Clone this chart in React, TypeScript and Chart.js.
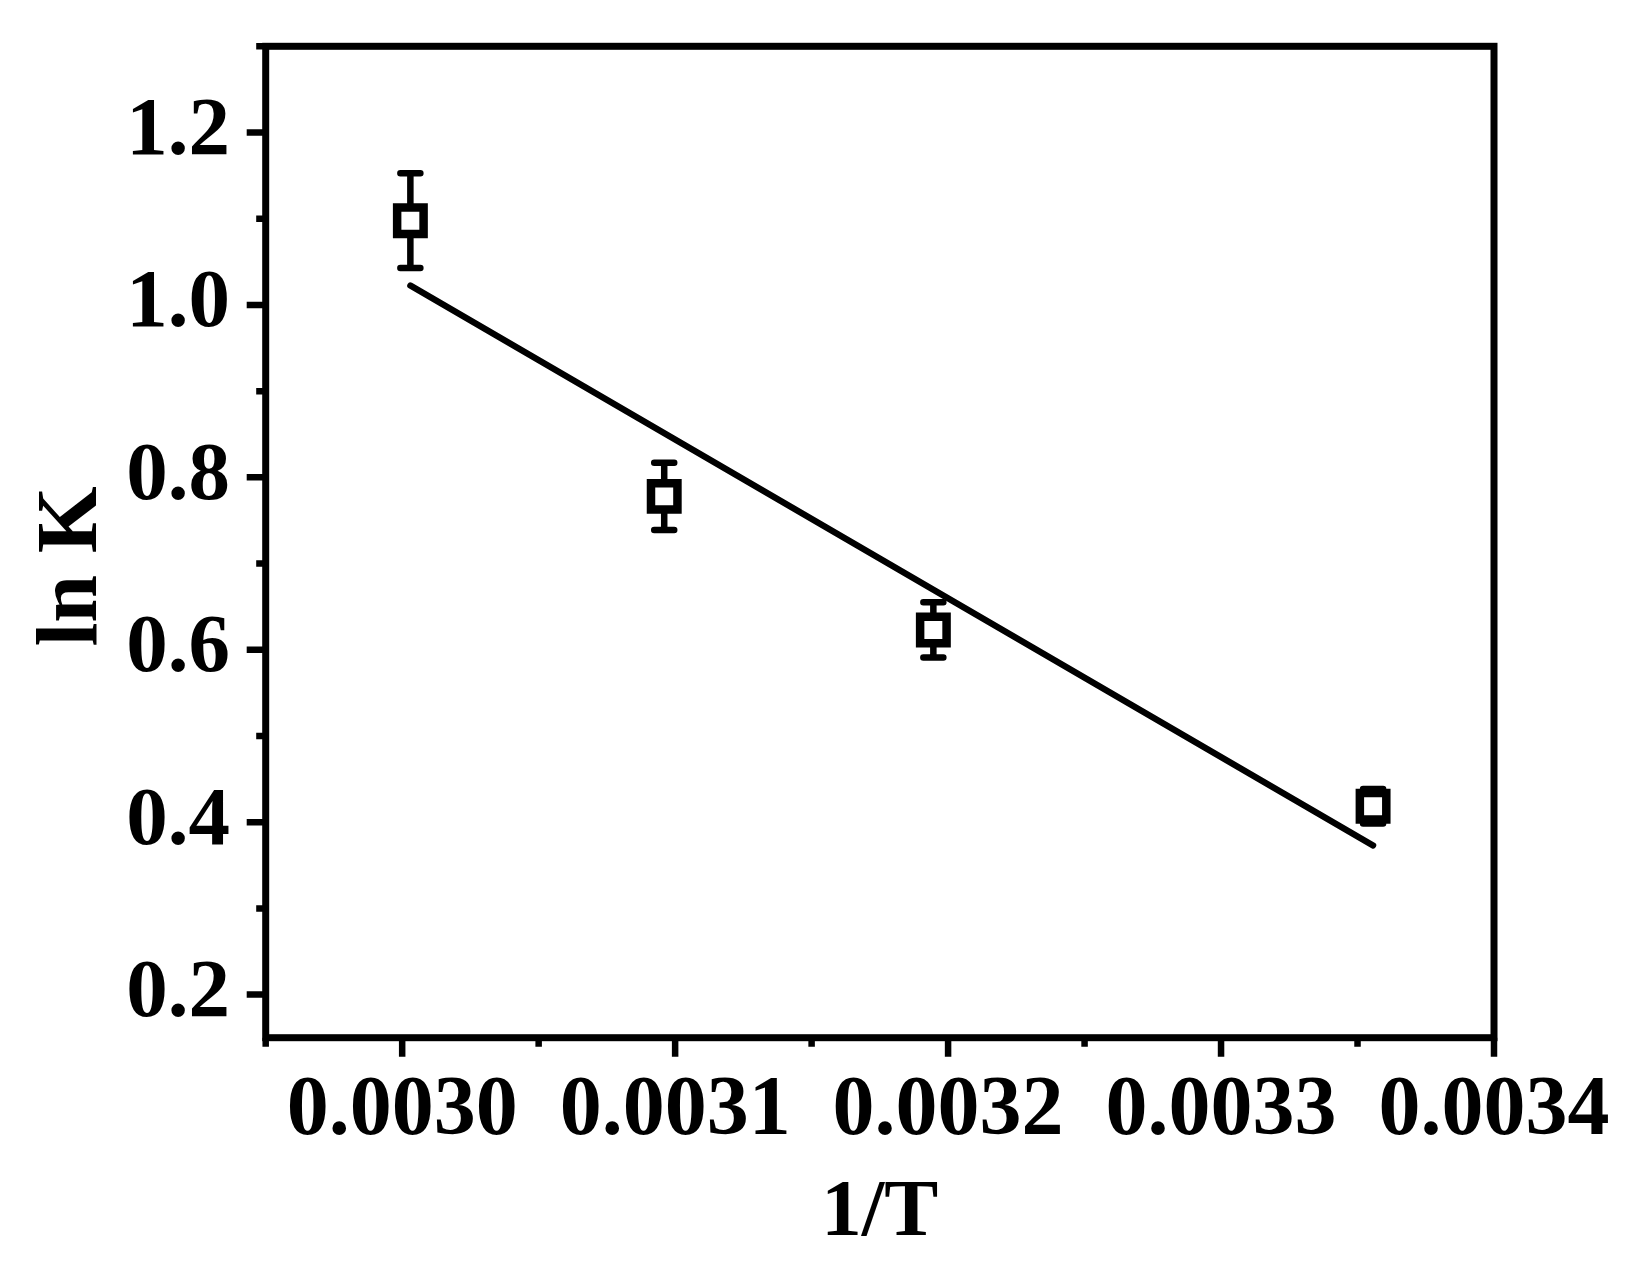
import React, { useEffect, useRef } from 'react';
import { Chart, registerables } from 'chart.js';

Chart.register(...registerables);

// ---- Data ----
const invT = [0.003003, 0.003096, 0.0031946, 0.0033557];
const lnK = [1.0977, 0.7779, 0.623, 0.4185];
const lnKErr = [0.055, 0.039, 0.032, 0.02];
const fitInvT = [0.003003, 0.0033557];
const fitLnK = [1.0225, 0.3729];

const xMajorTicks = [0.003, 0.0031, 0.0032, 0.0033, 0.0034];
const xTickLabels = ['0.0030', '0.0031', '0.0032', '0.0033', '0.0034'];
const xMinorTicks = [0.00295, 0.00305, 0.00315, 0.00325, 0.00335];
const yMajorTicks = [0.2, 0.4, 0.6, 0.8, 1.0, 1.2];
const yTickLabels = ['0.2', '0.4', '0.6', '0.8', '1.0', '1.2'];
const yMinorTicks = [0.3, 0.5, 0.7, 0.9, 1.1, 1.3];

const X_MIN = 0.00295;
const X_MAX = 0.0034;
const Y_MIN = 0.15;
const Y_MAX = 1.3;

const xTitle = '1/T';
const yTitle = 'ln K';

const FONT = '"Liberation Serif", "Times New Roman", serif';

const findLabel = (ticks: number[], labels: string[], value: number) => {
  const i = ticks.findIndex((v) => Math.abs(v - value) < 1e-9);
  return i >= 0 ? labels[i] : '';
};

const errorBarPlugin = {
  id: 'errorBars',
  beforeDatasetsDraw(chart: any) {
    const { ctx, scales } = chart;
    const xs = scales.x;
    const ys = scales.y;
    ctx.save();
    ctx.strokeStyle = '#000';
    ctx.lineWidth = 6.5;
    ctx.lineCap = 'round';
    invT.forEach((xv, i) => {
      const px = xs.getPixelForValue(xv);
      const pTop = ys.getPixelForValue(lnK[i] + lnKErr[i]);
      const pBot = ys.getPixelForValue(lnK[i] - lnKErr[i]);
      ctx.beginPath();
      ctx.moveTo(px, pTop);
      ctx.lineTo(px, pBot);
      ctx.moveTo(px - 10, pTop);
      ctx.lineTo(px + 10, pTop);
      ctx.moveTo(px - 10, pBot);
      ctx.lineTo(px + 10, pBot);
      ctx.stroke();
    });
    ctx.restore();
  },
};

const framePlugin = {
  id: 'frameTicks',
  afterDraw(chart: any) {
    const { ctx, chartArea, scales } = chart;
    const { left, right, top, bottom } = chartArea;
    const xs = scales.x;
    const ys = scales.y;
    ctx.save();
    ctx.strokeStyle = '#000';
    ctx.lineWidth = 7;
    ctx.lineCap = 'butt';
    ctx.strokeRect(left, top, right - left, bottom - top);
    ctx.lineWidth = 6.5;
    ctx.beginPath();
    yMajorTicks.forEach((v) => {
      const p = ys.getPixelForValue(v);
      ctx.moveTo(left, p);
      ctx.lineTo(left - 19, p);
    });
    yMinorTicks.forEach((v) => {
      const p = ys.getPixelForValue(v);
      ctx.moveTo(left, p);
      ctx.lineTo(left - 9.5, p);
    });
    xMajorTicks.forEach((v) => {
      const p = xs.getPixelForValue(v);
      ctx.moveTo(p, bottom);
      ctx.lineTo(p, bottom + 19);
    });
    xMinorTicks.forEach((v) => {
      const p = xs.getPixelForValue(v);
      ctx.moveTo(p, bottom);
      ctx.lineTo(p, bottom + 9);
    });
    ctx.stroke();

    // y axis title
    ctx.fillStyle = '#000';
    ctx.font = `bold 86px ${FONT}`;
    ctx.textAlign = 'center';
    ctx.textBaseline = 'alphabetic';
    ctx.translate(95.5, 566.5);
    ctx.rotate(-Math.PI / 2);
    ctx.fillText(yTitle, 0, 0);
    ctx.restore();
  },
};

export default function App() {
  const canvasRef = useRef<HTMLCanvasElement | null>(null);

  useEffect(() => {
    if (!canvasRef.current) return;
    const chart = new Chart(canvasRef.current, {
      type: 'scatter',
      data: {
        datasets: [
          {
            label: 'ln K',
            data: invT.map((x, i) => ({ x, y: lnK[i] })),
            pointStyle: 'rect',
            pointRadius: 18.7,
            pointHoverRadius: 18.7,
            borderWidth: 8.5,
            pointBorderWidth: 8.5,
            borderColor: '#000',
            pointBorderColor: '#000',
            backgroundColor: '#fff',
            pointBackgroundColor: '#fff',
            showLine: false,
          },
          {
            label: 'fit',
            data: fitInvT.map((x, i) => ({ x, y: fitLnK[i] })),
            showLine: true,
            borderColor: '#000',
            borderWidth: 6.3,
            borderCapStyle: 'round',
            pointRadius: 0,
            pointHoverRadius: 0,
            fill: false,
          } as any,
        ],
      },
      options: {
        responsive: false,
        animation: false,
        devicePixelRatio: 1,
        layout: { padding: { left: 0, top: 46.3, right: 151, bottom: 0 } },
        plugins: {
          legend: { display: false },
          tooltip: { enabled: false },
        },
        events: [],
        scales: {
          x: {
            type: 'linear',
            min: X_MIN,
            max: X_MAX,
            grid: { display: false, drawTicks: false },
            border: { display: false },
            afterBuildTicks: (scale: any) => {
              scale.ticks = [...xMajorTicks, ...xMinorTicks]
                .sort((a, b) => a - b)
                .map((value) => ({ value }));
            },
            afterFit: (scale: any) => {
              scale.height = 244.3;
              scale.paddingLeft = 0;
              scale.paddingRight = 0;
            },
            ticks: {
              autoSkip: false,
              maxRotation: 0,
              minRotation: 0,
              padding: 33,
              color: '#000',
              font: { family: FONT, size: 84, weight: 'bold', lineHeight: 1 },
              callback: (value: any) => findLabel(xMajorTicks, xTickLabels, Number(value)),
            },
            title: {
              display: true,
              text: xTitle,
              color: '#000',
              font: { family: FONT, size: 81, weight: 'bold', lineHeight: 1 },
              padding: { top: 0, bottom: 27.5 },
            },
          },
          y: {
            type: 'linear',
            min: Y_MIN,
            max: Y_MAX,
            grid: { display: false, drawTicks: false },
            border: { display: false },
            afterBuildTicks: (scale: any) => {
              scale.ticks = [...yMajorTicks, ...yMinorTicks]
                .sort((a, b) => a - b)
                .map((value) => ({ value }));
            },
            afterFit: (scale: any) => {
              scale.width = 265.7;
              scale.paddingTop = 0;
              scale.paddingBottom = 0;
            },
            ticks: {
              autoSkip: false,
              padding: 35.7,
              color: '#000',
              font: { family: FONT, size: 83, weight: 'bold', lineHeight: 1 },
              callback: (value: any) => findLabel(yMajorTicks, yTickLabels, Number(value)),
            },
          },
        },
      },
      plugins: [errorBarPlugin, framePlugin],
    } as any);
    return () => chart.destroy();
  }, []);

  return (
    <div style={{ position: 'absolute', left: 0, top: 0, width: 1645, height: 1282, background: '#fff' }}>
      <canvas ref={canvasRef} width={1645} height={1282} style={{ display: 'block' }} />
    </div>
  );
}
